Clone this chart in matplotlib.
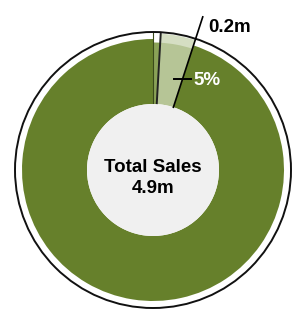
import numpy as np
import matplotlib
matplotlib.use("Agg")
import matplotlib.pyplot as plt
from matplotlib.patches import Circle

# Data
segment_labels = ["Highlight A", "Highlight B", "Other"]
segment_shares = [0.9, 4.1, 95.0]   # percent, clockwise from 12 o'clock
total_label = "Total Sales\n4.9m"
highlight_pct = "5%"
highlight_value = "0.2m"

W, H = 298, 311
fig = plt.figure(figsize=(W / 100, H / 100), dpi=100)
ax = fig.add_axes([0, 0, 1, 1])
plt.rcParams['font.family'] = ['Liberation Sans', 'DejaVu Sans']

cx, cy = 153, 141
r_out, r_in = 131, 66
r_circle = 138

main_green = "#66802b"
sliver_green = "#8aa257"
light_green = "#b6c596"
band_green = "#d5dec3"

ax.pie(segment_shares, radius=r_out, center=(cx, cy), startangle=90,
       counterclock=False, colors=[sliver_green, light_green, main_green],
       wedgeprops=dict(width=r_out - r_in, linewidth=0))
# outer band for highlight segments
ax.pie(segment_shares, radius=136.5, center=(cx, cy), startangle=90,
       counterclock=False, colors=["white", band_green, (0, 0, 0, 0)],
       wedgeprops=dict(width=9, linewidth=0))

# inner grey disc
ax.add_patch(Circle((cx, cy), r_in, facecolor="#f0f0f0", edgecolor="none", zorder=3))
# outer thin circle
ax.add_patch(Circle((cx, cy), r_circle, facecolor="none", edgecolor="#111111", lw=1.4, zorder=4))

cum = np.cumsum(segment_shares)
# sliver edge lines
for pct, lw, col in [(0, 0.8, "#3a4a1a"), (cum[0], 1.4, "#222222")]:
    a = np.deg2rad(90 - 360 * pct / 100)
    ax.plot([cx + r_in * np.cos(a), cx + 137 * np.cos(a)],
            [cy + r_in * np.sin(a), cy + 137 * np.sin(a)], color=col, lw=lw, zorder=2)

# leader line at the end of highlighted group
a = np.deg2rad(90 - 360 * cum[1] / 100)
ax.plot([cx + r_in * np.cos(a), cx + 161 * np.cos(a)],
        [cy + r_in * np.sin(a), cy + 161 * np.sin(a)], color="black", lw=1.2, zorder=5)
rt = 96
tx, ty = cx + rt * np.cos(a), cy + rt * np.sin(a)
ax.plot([tx - 9, tx + 8], [ty, ty], color="black", lw=1.4, zorder=5)

ax.text(193, 226, highlight_pct, color="white", fontsize=13.5, fontweight="bold",
        ha="left", va="baseline", zorder=6)
ax.text(208, 278.5, highlight_value, color="black", fontsize=13.5, fontweight="bold",
        ha="left", va="baseline", zorder=6)
l1, l2 = total_label.split("\n")
ax.text(cx, 139, l1, color="black", fontsize=13.5, fontweight="bold",
        ha="center", va="baseline", zorder=6)
ax.text(cx, 118, l2, color="black", fontsize=13.5, fontweight="bold",
        ha="center", va="baseline", zorder=6)

ax.set_xlim(0, W)
ax.set_ylim(0, H)
ax.set_aspect("equal")
ax.axis("off")
fig.savefig("out.png", dpi=100)
